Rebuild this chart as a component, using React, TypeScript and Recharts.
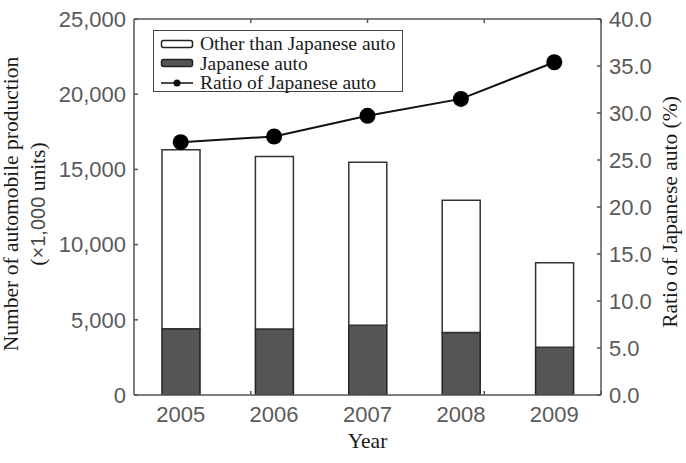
import React from 'react';
import { ComposedChart, Bar, Line, XAxis, YAxis, Legend, Label } from 'recharts';

const years = ['2005', '2006', '2007', '2008', '2009'];
const japaneseAuto = [4400, 4380, 4640, 4150, 3180];
const otherAuto = [11900, 11470, 10830, 8800, 5620];
const ratioJapanese = [26.9, 27.5, 29.7, 31.5, 35.4];

const leftTicks = [0, 5000, 10000, 15000, 20000, 25000];
const rightTicks = [0, 5, 10, 15, 20, 25, 30, 35, 40];
const boundaryTicks = [1, 2, 3, 4];

const legendItems = [
  { key: 'other', label: 'Other than Japanese auto', kind: 'barWhite' },
  { key: 'japanese', label: 'Japanese auto', kind: 'barDark' },
  { key: 'ratio', label: 'Ratio of Japanese auto', kind: 'line' },
];

const data = years.map((y, i) => ({
  year: y,
  japanese: japaneseAuto[i],
  other: otherAuto[i],
  ratio: ratioJapanese[i],
}));

const FRAME = '#555';
const TICK_FONT = '"Liberation Sans", Arial, sans-serif';
const SERIF = '"Liberation Serif", "Times New Roman", serif';
const tickStyle = { fontFamily: TICK_FONT, fontSize: 22, fill: '#5a5a5a' };

const LegendIcon = ({ kind }: { kind: string }) => (
  <svg width={34} height={12} style={{ display: 'block' }}>
    {kind === 'line' ? (
      <g>
        <line x1={1} y1={6} x2={33} y2={6} stroke="#111" strokeWidth={1.5} />
        <circle cx={17} cy={6} r={3.5} fill="#111" />
      </g>
    ) : (
      <rect x={1.5} y={2.5} width={31} height={7} rx={2} fill={kind === 'barDark' ? '#555' : '#fff'} stroke="#222" strokeWidth={1.5} />
    )}
  </svg>
);

const LegendBox = () => (
  <div
    style={{
      border: '1.5px solid #444',
      background: '#fff',
      padding: '3px 6px 0px 6px',
      fontFamily: SERIF,
      fontSize: 19.5,
      lineHeight: '19.5px',
      color: '#1a1a1a',
      width: 236,
      height: 57,
    }}
  >
    {legendItems.map((it) => (
      <div key={it.key} style={{ display: 'flex', alignItems: 'center', height: 19.5 }}>
        <LegendIcon kind={it.kind} />
        <span style={{ marginLeft: 6, whiteSpace: 'nowrap' }}>{it.label}</span>
      </div>
    ))}
  </div>
);

const LeftTitle = (props: any) => {
  const vb = props.viewBox || {};
  const cy = vb.y + vb.height / 2 - 3;
  const x1 = 17.5;
  const x2 = 45;
  return (
    <g>
      <text x={x1} y={cy} transform={`rotate(-90, ${x1}, ${cy})`} textAnchor="middle" fontFamily={SERIF} fontSize={21.5} fill="#1a1a1a">
        Number of automobile production
      </text>
      <text x={x2} y={cy} transform={`rotate(-90, ${x2}, ${cy})`} textAnchor="middle" fontFamily={SERIF} fontSize={21.5} fill="#1a1a1a">
        <tspan>(</tspan>
        <tspan fontFamily={TICK_FONT} fill="#4a4a4a" fontSize={20}>×1,000</tspan>
        <tspan> units)</tspan>
      </text>
    </g>
  );
};

const RightTitle = (props: any) => {
  const vb = props.viewBox || {};
  const cy = vb.y + vb.height / 2 + 5;
  const x = vb.x + 76;
  return (
    <text x={x} y={cy} transform={`rotate(-90, ${x}, ${cy})`} textAnchor="middle" fontFamily={SERIF} fontSize={21.5} fill="#1a1a1a">
      Ratio of Japanese auto (%)
    </text>
  );
};

const BottomTitle = (props: any) => {
  const vb = props.viewBox || {};
  const cx = vb.x + vb.width / 2;
  return (
    <text x={cx} y={vb.y + 53} textAnchor="middle" fontFamily={SERIF} fontSize={21.5} fill="#1a1a1a">
      Year
    </text>
  );
};

const frameLine = { stroke: FRAME, strokeWidth: 1.5 };

export default function App() {
  return (
    <div style={{ position: 'absolute', left: 0, top: 0, width: 686, height: 463 }}>
      <ComposedChart width={686} height={463} data={data} margin={{ top: 19, right: 0, bottom: 0, left: 0 }}>
        <XAxis
          xAxisId="cat"
          dataKey="year"
          height={68}
          tickLine={false}
          tickSize={0}
          tickMargin={11}
          axisLine={frameLine}
          tick={tickStyle}
        >
          <Label content={BottomTitle} />
        </XAxis>
        <XAxis
          xAxisId="bottomFrame"
          type="number"
          domain={[0, 5]}
          ticks={boundaryTicks}
          orientation="bottom"
          mirror
          tickSize={4}
          tickFormatter={() => ''}
          axisLine={false}
          tickLine={frameLine}
          allowDataOverflow
        />
        <XAxis
          xAxisId="topFrame"
          type="number"
          domain={[0, 5]}
          ticks={boundaryTicks}
          orientation="top"
          mirror
          tickSize={4}
          tickFormatter={() => ''}
          axisLine={frameLine}
          tickLine={frameLine}
          allowDataOverflow
        />
        <YAxis
          yAxisId="left"
          width={134}
          domain={[0, 25000]}
          ticks={leftTicks}
          tickLine={false}
          tickSize={0}
          tickMargin={8}
          axisLine={frameLine}
          tick={tickStyle}
          tickFormatter={(v: number) => v.toLocaleString('en-US')}
          allowDataOverflow
        >
          <Label content={LeftTitle} />
        </YAxis>
        <YAxis
          yAxisId="leftTicks"
          domain={[0, 25000]}
          ticks={leftTicks}
          mirror
          tickSize={4}
          tickFormatter={() => ''}
          axisLine={false}
          tickLine={frameLine}
          allowDataOverflow
        />
        <YAxis
          yAxisId="right"
          orientation="right"
          width={85}
          domain={[0, 40]}
          ticks={rightTicks}
          tickLine={false}
          tickSize={0}
          tickMargin={8}
          axisLine={frameLine}
          tick={tickStyle}
          tickFormatter={(v: number) => v.toFixed(1)}
          allowDataOverflow
        >
          <Label content={RightTitle} />
        </YAxis>
        <YAxis
          yAxisId="rightTicks"
          orientation="right"
          domain={[0, 40]}
          ticks={rightTicks}
          mirror
          tickSize={4}
          tickFormatter={() => ''}
          axisLine={false}
          tickLine={frameLine}
          allowDataOverflow
        />
        <Legend
          layout="vertical"
          align="center"
          verticalAlign="middle"
          content={() => <LegendBox />}
          wrapperStyle={{ position: 'absolute', left: 153, top: 30, width: 'auto', height: 'auto' }}
        />
        <Bar xAxisId="cat" yAxisId="left" dataKey="japanese" stackId="a" barSize={38} fill="#555" stroke="#222" strokeWidth={1.5} isAnimationActive={false} />
        <Bar xAxisId="cat" yAxisId="left" dataKey="other" stackId="a" barSize={38} fill="#fff" stroke="#333" strokeWidth={1.5} isAnimationActive={false} />
        <Line
          xAxisId="cat"
          yAxisId="right"
          dataKey="ratio"
          stroke="#111"
          strokeWidth={2}
          dot={{ r: 8, fill: '#000', stroke: '#000', strokeWidth: 0 }}
          activeDot={false}
          isAnimationActive={false}
        />
      </ComposedChart>
    </div>
  );
}
